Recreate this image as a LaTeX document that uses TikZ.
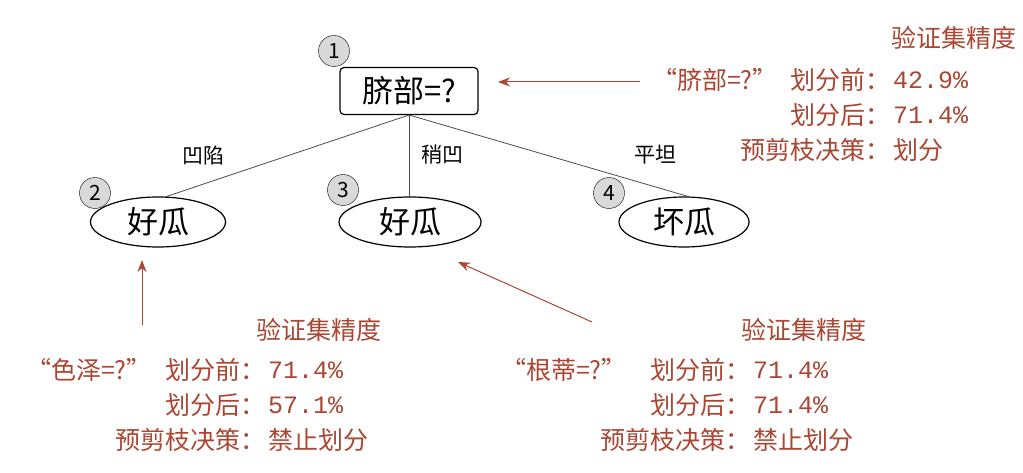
\documentclass[tikz,border=0pt]{standalone}
\usepackage{fontspec}
\setmainfont{Noto Sans CJK SC}
\newfontfamily\monof{Liberation Mono}
\usetikzlibrary{shapes.geometric,arrows.meta}
\definecolor{rd}{RGB}{170,70,50}
\tikzset{
 num/.style={circle,draw,fill=black!15,minimum size=31pt,inner sep=0pt,font=\fontsize{21}{21}\selectfont},
 leaf/.style={ellipse,draw,line width=1.2pt,minimum width=135pt,minimum height=50pt,inner sep=0pt,font=\fontsize{31}{31}\selectfont},
 elab/.style={font=\fontsize{21}{21}\selectfont},
 rt/.style={text=rd,font=\fontsize{25}{25}\selectfont,inner sep=0pt},
 rarr/.style={draw=rd,line width=1pt,-{Stealth[length=12pt,width=9pt]}},
 edge/.style={draw=black!70,line width=0.8pt}
}
\begin{document}
\begin{tikzpicture}[x=1pt,y=-1pt]
\useasboundingbox (0,0) rectangle (1023,473);
\node[draw,line width=1.2pt,rounded corners=4pt,minimum width=138pt,minimum height=47pt,font=\fontsize{31}{31}\selectfont] (root) at (409,91) {脐部=?};
\node[num] (n1) at (334,51) {1};
\node[leaf] (l2) at (158,222) {好瓜};
\node[num] (n2) at (95,193) {2};
\node[leaf,minimum width=142pt] (l3) at (410,222) {好瓜};
\node[num] (n3) at (343,190) {3};
\node[leaf,minimum width=130pt] (l4) at (684,222) {坏瓜};
\node[num] (n4) at (609,193) {4};
\coordinate (rb) at (409,115);
\coordinate (t2) at (165,197);
\coordinate (t3) at (409,197);
\coordinate (t4) at (690,197);
\draw[edge] (rb) -- (t2);
\draw[edge] (rb) -- (t3);
\draw[edge] (rb) -- (t4);
\node[elab] (e2) at (203,155) {凹陷};
\node[elab] (e3) at (442,155) {稍凹};
\node[elab] (e4) at (655,155) {平坦};
% top
\node[rt,anchor=east] (h1) at (1017,38) {验证集精度};
\node[rt,anchor=east] (q1) at (778,80) {“脐部=?”};
\node[rt,anchor=east] (a1) at (891,80) {划分前：};
\node[rt,anchor=west] (v1) at (893,80) {\monof 42.9\%};
\node[rt,anchor=east] (b1) at (891,115) {划分后：};
\node[rt,anchor=west] (w1) at (893,115) {\monof 71.4\%};
\node[rt,anchor=east] (c1) at (891,150) {预剪枝决策：};
\node[rt,anchor=west] (x1) at (893,150) {划分};
\coordinate (s1) at (640,82);
\coordinate (d1) at (498,82);
\draw[rarr] (s1) -- (d1);
% bottom left
\node[rt,anchor=east] (h2) at (382,330) {验证集精度};
\node[rt,anchor=east] (q2) at (152,370) {“色泽=?”};
\node[rt,anchor=east] (a2) at (266,370) {划分前：};
\node[rt,anchor=west] (v2) at (268,370) {\monof 71.4\%};
\node[rt,anchor=east] (b2) at (266,405) {划分后：};
\node[rt,anchor=west] (w2) at (268,405) {\monof 57.1\%};
\node[rt,anchor=east] (c2) at (266,440) {预剪枝决策：};
\node[rt,anchor=west] (x2) at (268,440) {禁止划分};
\coordinate (s2) at (142,325);
\coordinate (d2) at (142,260);
\draw[rarr] (s2) -- (d2);
% bottom right
\node[rt,anchor=east] (h3) at (867,330) {验证集精度};
\node[rt,anchor=east] (q3) at (627,370) {“根蒂=?”};
\node[rt,anchor=east] (a3) at (751,370) {划分前：};
\node[rt,anchor=west] (v3) at (753,370) {\monof 71.4\%};
\node[rt,anchor=east] (b3) at (751,405) {划分后：};
\node[rt,anchor=west] (w3) at (753,405) {\monof 71.4\%};
\node[rt,anchor=east] (c3) at (751,440) {预剪枝决策：};
\node[rt,anchor=west] (x3) at (753,440) {禁止划分};
\coordinate (s3) at (592,322);
\coordinate (d3) at (458,262);
\draw[rarr] (s3) -- (d3);
\end{tikzpicture}
\end{document}
